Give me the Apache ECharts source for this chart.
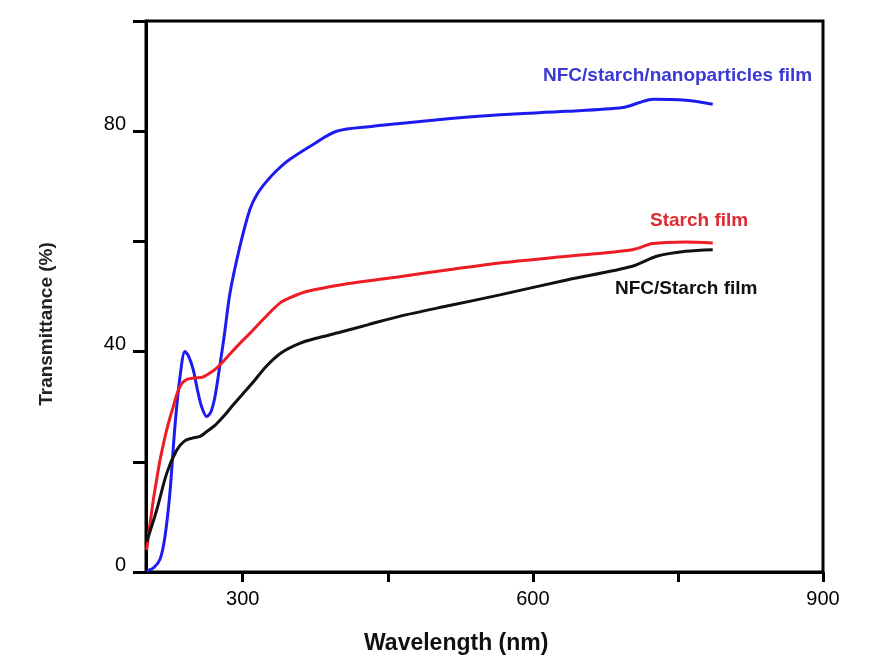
<!DOCTYPE html>
<html>
<head>
<meta charset="utf-8">
<script src="https://cdn.jsdelivr.net/npm/echarts@6/dist/echarts.min.js"></script>
<style>
html,body{margin:0;padding:0;background:#fff;}
#chart{width:879px;height:661px;}
</style>
</head>
<body>
<div id="chart"></div>
<script>
// ---- data ----
const xTicks = [300, 450, 600, 750, 900];
const xTickLabels = [300, 600, 900];
const yTicks = [0, 20, 40, 60, 80, 100];
const yTickLabels = [0, 40, 80];

const seriesNames = ['NFC/starch/nanoparticles film', 'Starch film', 'NFC/Starch film'];

const blueX = [200.7, 208, 214.5, 219.6, 224.7, 229.9, 235, 240.3, 244, 248.9, 253, 257.5, 262.7, 267, 271.3, 276.4, 281, 286.8, 297.1, 307.4, 315, 324.7, 336, 348.8, 372.8, 397, 434.8, 462.4, 515, 565.7, 634.6, 693, 710.3, 724, 758.5, 786];
const blueY = [0.2, 0.8, 2.3, 6.4, 14.3, 26.4, 35.2, 40, 39.2, 36.7, 33.2, 30, 28.2, 29, 31.8, 37.5, 43, 50.6, 59.1, 65.8, 68.6, 70.9, 73, 74.9, 77.6, 80, 80.9, 81.4, 82.3, 83, 83.6, 84.3, 85.2, 85.8, 85.6, 84.9];

const redX = [200.7, 204, 207.5, 211, 214.5, 218, 221.4, 224.8, 228.2, 232, 236.9, 243, 250, 259, 266.1, 273, 279.9, 288, 297.1, 307.4, 322, 338.4, 352, 366, 400.4, 462, 515, 566, 635, 703, 724, 758, 786];
const redY = [4, 8.5, 13, 16.8, 20.3, 23.2, 25.8, 28, 30, 32.3, 34.2, 35, 35.2, 35.4, 36.1, 37, 38.2, 39.8, 41.5, 43.3, 46, 48.8, 50, 50.9, 52.1, 53.6, 54.9, 56.1, 57.3, 58.5, 59.6, 59.9, 59.7];

const blackX = [200.7, 211, 221.4, 231.7, 240, 248, 255.8, 263, 271.3, 280, 290, 300, 310, 324.7, 340, 359, 380, 400.4, 430, 462, 515, 566, 635, 703, 728, 758, 786];
const blackY = [5.5, 11.2, 17.9, 22.1, 23.8, 24.3, 24.6, 25.5, 26.6, 28.2, 30.3, 32.3, 34.3, 37.4, 39.8, 41.5, 42.6, 43.5, 44.9, 46.4, 48.4, 50.3, 53, 55.5, 57.3, 58.2, 58.5];

const xTitle = 'Wavelength (nm)';
const yTitle = 'Transmittance (%)';

// ---- chart ----
const pairs = (xs, ys) => xs.map((x, i) => [x, ys[i]]);
const FONT = '"Liberation Sans", Arial, sans-serif';
const chart = echarts.init(document.getElementById('chart'), null, {renderer: 'canvas'});

const lineSeries = (name, data, color) => ({
  name, type: 'line', data, smooth: 0.3, showSymbol: false, symbol: 'none',
  lineStyle: {color, width: 3}, itemStyle: {color}, z: 3, animation: false
});

chart.setOption({
  backgroundColor: '#ffffff',
  animation: false,
  grid: {left: 146, right: 56, top: 21, bottom: 89, show: true, borderColor: '#000', borderWidth: 3, backgroundColor: 'transparent'},
  xAxis: {
    type: 'value', min: 200, max: 900,
    axisLine: {show: true, lineStyle: {color: '#000', width: 3}},
    axisTick: {show: true, customValues: xTicks, length: 10, lineStyle: {color: '#000', width: 3}},
    axisLabel: {customValues: xTickLabels, margin: 17, fontSize: 20, fontFamily: FONT, color: '#000'},
    splitLine: {show: false}
  },
  yAxis: {
    type: 'value', min: 0, max: 100,
    axisLine: {show: true, lineStyle: {color: '#000', width: 3}},
    axisTick: {show: true, customValues: yTicks, length: 13, lineStyle: {color: '#000', width: 3}},
    axisLabel: {customValues: yTickLabels, margin: 20, fontSize: 20, fontFamily: FONT, color: '#000',
      verticalAlign: 'bottom', lineHeight: 14},
    splitLine: {show: false}
  },
  series: [
    lineSeries(seriesNames[0], pairs(blueX, blueY), '#1c1cf0'),
    lineSeries(seriesNames[1], pairs(redX, redY), '#ee1c24'),
    lineSeries(seriesNames[2], pairs(blackX, blackY), '#111111')
  ],
  graphic: [
    {type: 'text', left: 543, top: 66, style: {text: seriesNames[0], fill: '#3a3ad2', font: 'bold 19px ' + FONT}},
    {type: 'text', left: 650, top: 211, style: {text: seriesNames[1], fill: '#dd2a33', font: 'bold 19px ' + FONT}},
    {type: 'text', left: 615, top: 279, style: {text: seriesNames[2], fill: '#111', font: 'bold 19px ' + FONT}},
    {type: 'text', left: 364, top: 632, style: {text: xTitle, fill: '#111', font: 'bold 23px ' + FONT}},
    {type: 'text', x: 47, y: 324, rotation: Math.PI / 2, style: {text: yTitle, fill: '#222', font: 'bold 19px ' + FONT, align: 'center', verticalAlign: 'middle'}}
  ]
});
</script>
</body>
</html>
